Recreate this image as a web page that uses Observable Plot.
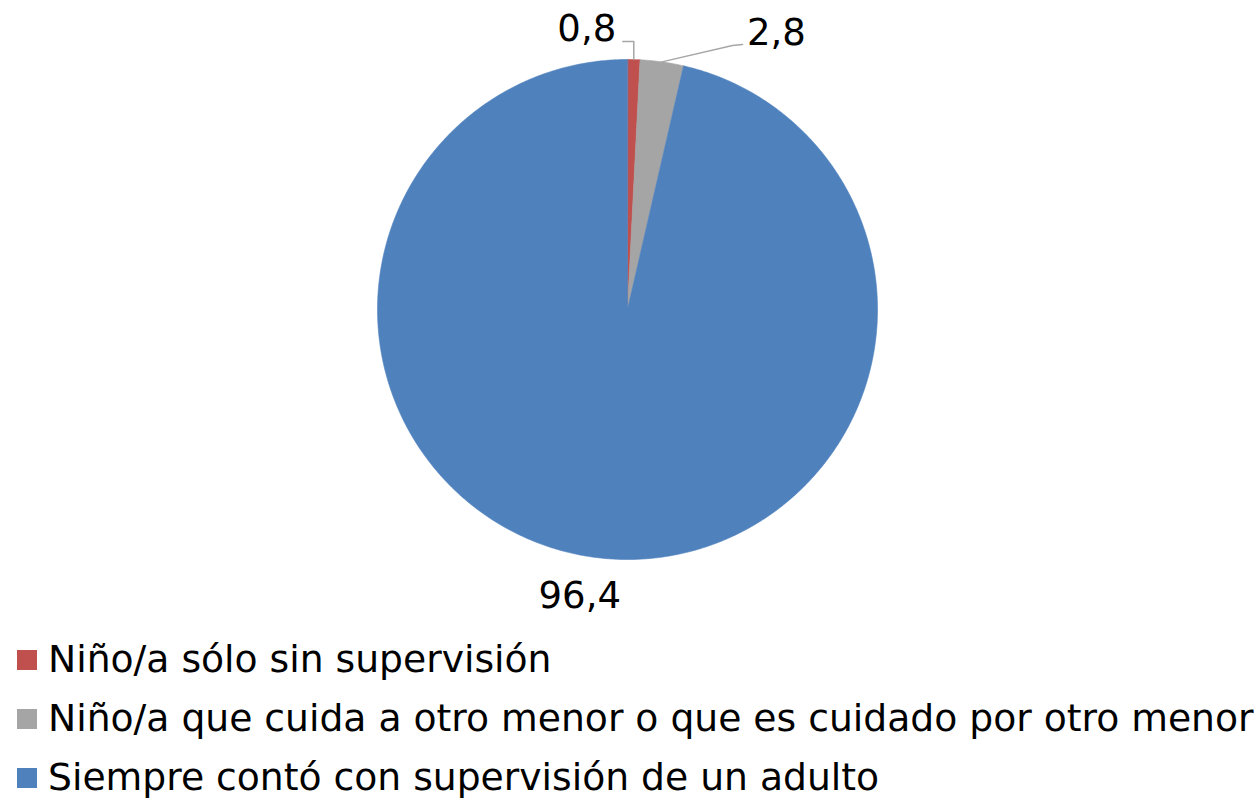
<!DOCTYPE html>
<html>
<head>
<meta charset="utf-8">
<script src="https://cdn.jsdelivr.net/npm/d3@7"></script>
<script src="https://cdn.jsdelivr.net/npm/@observablehq/plot@0.6"></script>
<style>
  html, body { margin: 0; padding: 0; background: #fff; }
  body { width: 1258px; height: 799px; overflow: hidden; font-family: "DejaVu Sans", Verdana, sans-serif; }
  #legend { margin: 0; padding: 0; }
  .row { display: flex; align-items: center; height: 59px; white-space: nowrap; }
  .sw { width: 20px; height: 20px; margin-left: 17px; margin-right: 11px; flex: none; }
  .lab { font-size: 37.7px; color: #000; line-height: 1; }
</style>
</head>
<body>
<div id="chart"></div>
<div id="legend"></div>
<script>
// ---- data ----
const categories = [
  "Niño/a sólo sin supervisión",
  "Niño/a que cuida a otro menor o que es cuidado por otro menor",
  "Siempre contó con supervisión de un adulto"
];
const values = [0.8, 2.8, 96.4];
const valueLabels = ["0,8", "2,8", "96,4"];
const colors = ["#c0504d", "#a5a5a5", "#4f81bd"];

// ---- layout ----
const W = 1258, H = 630;
const R = 250, cx = 627, cy = 309;   // pixel centre and radius of pie

const slices = d3.pie().sort(null).startAngle(0).endAngle(2 * Math.PI)
  .value(d => d.value)(categories.map((c, i) => ({name: c, value: values[i], label: valueLabels[i]})));

// polygon points for each slice (unit radius, y up)
const pts = [];
for (const s of slices) {
  pts.push({name: s.data.name, x: 0, y: 0});
  const n = Math.max(2, Math.ceil((s.endAngle - s.startAngle) / (Math.PI / 360)));
  for (let k = 0; k <= n; k++) {
    const a = s.startAngle + (s.endAngle - s.startAngle) * k / n;
    pts.push({name: s.data.name, x: Math.sin(a), y: Math.cos(a)});
  }
}

// labels: placed along each slice mid-angle
const mid = s => (s.startAngle + s.endAngle) / 2;
const labs = slices.map(s => ({
  name: s.data.name, label: s.data.label, a: mid(s),
  x: 1.16 * Math.sin(mid(s)), y: 1.16 * Math.cos(mid(s))
}));

// leader lines for the two thin slices (start on slice edge at mid-angle)
const lead = [];
{
  const a0 = labs[0].a;
  const p0 = {x: Math.sin(a0), y: Math.cos(a0)};
  lead.push({g: 0, x: p0.x, y: p0.y}, {g: 0, x: p0.x, y: 1.072}, {g: 0, x: p0.x - 0.044, y: 1.072});
  const a1 = labs[1].a;
  const p1 = {x: Math.sin(a1), y: Math.cos(a1)};
  lead.push({g: 1, x: p1.x, y: p1.y}, {g: 1, x: 0.42, y: 1.056}, {g: 1, x: 0.46, y: 1.06});
}

const chart = Plot.plot({
  width: W, height: H,
  margin: 0,
  x: {domain: [-cx / R, (W - cx) / R], range: [0, W], axis: null},
  y: {domain: [-(H - cy) / R, cy / R], range: [H, 0], axis: null},
  color: {domain: categories, range: colors},
  style: {fontFamily: "DejaVu Sans, Verdana, sans-serif", background: "#fff"},
  marks: [
    Plot.line(pts, {x: "x", y: "y", z: "name", fill: "name", stroke: "name", strokeWidth: 0.6, curve: "linear-closed"}),
    Plot.line(lead, {x: "x", y: "y", z: "g", stroke: "#a6a6a6", strokeWidth: 1.5}),
    Plot.text(labs.filter((d, i) => i === 0), {x: "x", y: "y", text: "label", fontSize: 37, fill: "#000", dx: -48, dy: 10}),
    Plot.text(labs.filter((d, i) => i === 1), {x: "x", y: "y", text: "label", fontSize: 37, fill: "#000", dx: 109, dy: 11}),
    Plot.text(labs.filter((d, i) => i === 2), {x: "x", y: "y", text: "label", fontSize: 37, fill: "#000", dx: -15, dy: -1})
  ]
});
document.getElementById("chart").appendChild(chart);

const legend = d3.select("#legend");
categories.forEach((c, i) => {
  const row = legend.append("div").attr("class", "row");
  row.append("div").attr("class", "sw").style("background", colors[i]);
  row.append("div").attr("class", "lab").text(c);
});
</script>
</body>
</html>
